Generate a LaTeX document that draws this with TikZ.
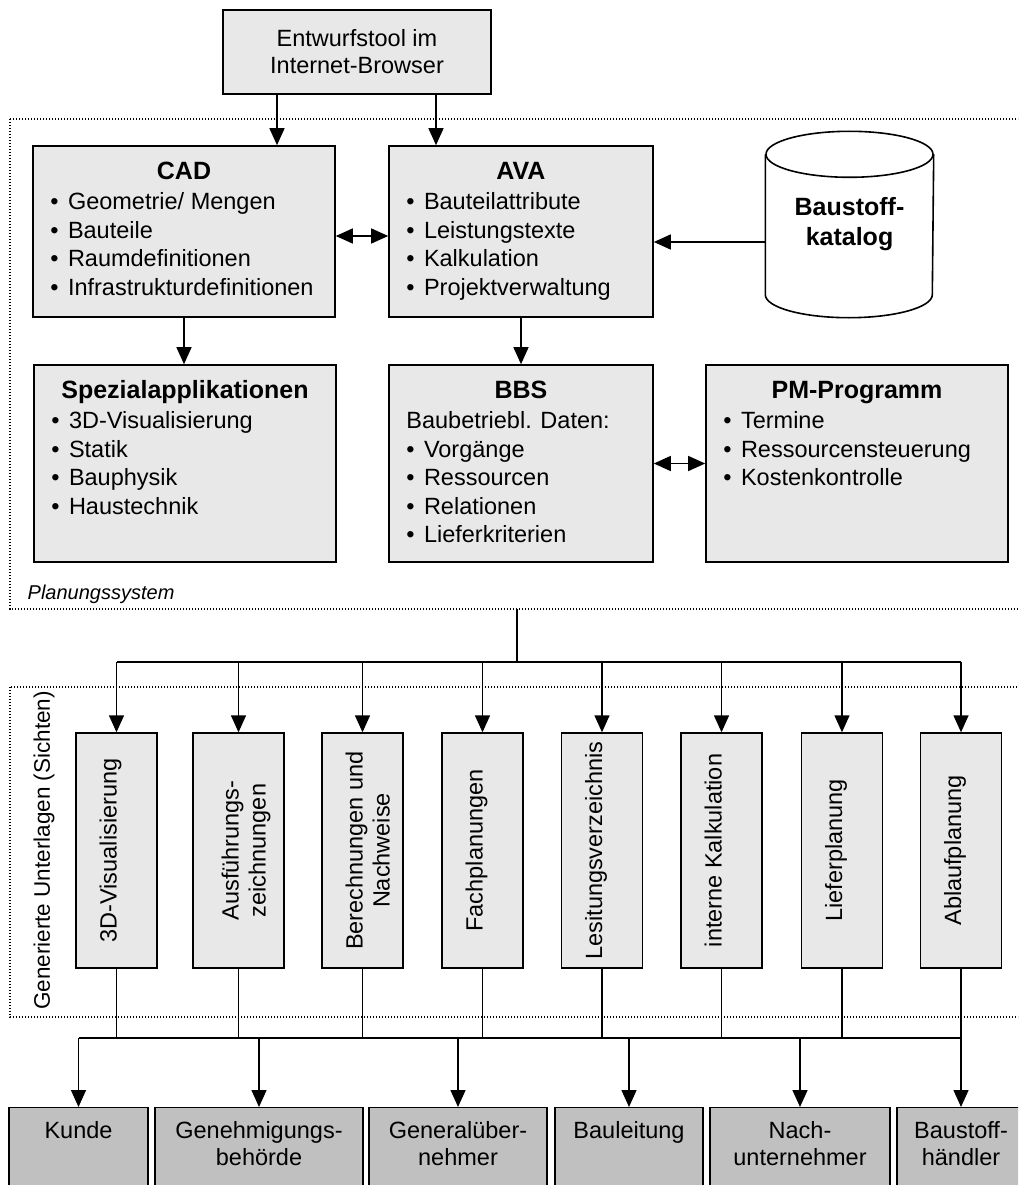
\documentclass[tikz,border=0pt]{standalone}
\usepackage{fontspec}
\setmainfont{Liberation Sans}
\usepackage{graphicx}
\usetikzlibrary{arrows.meta}
\definecolor{panelgray}{HTML}{E8E8E8}
\definecolor{recvgray}{HTML}{C0C0C0}
\newcommand{\bul}{\textbullet\hspace{0.4em}}
\newcommand{\twolines}[2]{\begin{tabular}[t]{@{}c@{}}#1\\#2\end{tabular}}
\newcommand{\vtext}[1]{\rotatebox{90}{\raisebox{0pt}[30pt][30pt]{#1}}}

\begin{document}
\begin{tikzpicture}[x=1pt,y=-1pt,>={Triangle[length=17pt,width=15pt]},line width=1.4pt,
	panel/.style={draw,fill=panelgray,line width=1.6pt,inner sep=0pt},
	head/.style={anchor=base,inner sep=0pt,font=\fontsize{25}{30}\selectfont\bfseries},
	items/.style={anchor=north west,align=left,inner sep=0pt,font=\fontsize{23.5}{28.5}\selectfont},
	sicht/.style={draw,fill=panelgray,inner sep=0pt,minimum width=81pt,minimum height=235pt,font=\fontsize{23.5}{27}\selectfont},
	recv/.style={draw,fill=recvgray,inner sep=0pt,anchor=north,text height=31pt,text depth=70pt,font=\fontsize{23.5}{27}\selectfont},
	frame/.style={dash pattern=on 1.2pt off 1.8pt,line width=1.2pt}]
	\useasboundingbox (0,0) rectangle (1018,1185);
	\clip (0,0) rectangle (1018,1185);
	\draw[frame] (10,119) rectangle (1040,609);
	\draw[frame] (10,687) rectangle (1040,1017);

	\node[panel,minimum width=268pt,minimum height=84pt,align=center,font=\fontsize{23.5}{27}\selectfont] (browser) at (357,52) {Entwurfstool im\\Internet-Browser};

	\node[panel,minimum width=302pt,minimum height=171pt] (cad) at (184,231.5) {};
	\node[panel,minimum width=264pt,minimum height=171pt] (ava) at (521,231.5) {};
	\node[panel,minimum width=302pt,minimum height=197pt] (spez) at (185,463.5) {};
	\node[panel,minimum width=264pt,minimum height=197pt] (bbs) at (521,463.5) {};
	\node[panel,minimum width=302pt,minimum height=197pt] (pm) at (857,463.5) {};

	\node[head] (cadh) at ([yshift=-34.5pt]cad.north) {CAD};
	\node[head] (avah) at ([yshift=-34.5pt]ava.north) {AVA};
	\node[head] (spezh) at ([yshift=-34.5pt]spez.north) {Spezialapplikationen};
	\node[head] (bbsh) at ([yshift=-34.5pt]bbs.north) {BBS};
	\node[head] (pmh) at ([yshift=-34.5pt]pm.north) {PM-Programm};

	\node[items] (cadl) at ([xshift=17.5pt,yshift=-47pt]cad.north west) {\bul Geometrie/ Mengen\\\bul Bauteile\\\bul Raumdefinitionen\\\bul Infrastrukturdefinitionen};
	\node[items] (aval) at ([xshift=17.5pt,yshift=-47pt]ava.north west) {\bul Bauteilattribute\\\bul Leistungstexte\\\bul Kalkulation\\\bul Projektverwaltung};
	\node[items] (spezl) at ([xshift=17.5pt,yshift=-47pt]spez.north west) {\bul 3D-Visualisierung\\\bul Statik\\\bul Bauphysik\\\bul Haustechnik};
	\node[items] (bbsl) at ([xshift=17.5pt,yshift=-47pt]bbs.north west) {Baubetriebl. Daten:\\\bul Vorgänge\\\bul Ressourcen\\\bul Relationen\\\bul Lieferkriterien};
	\node[items] (pml) at ([xshift=17.5pt,yshift=-47pt]pm.north west) {\bul Termine\\\bul Ressourcensteuerung\\\bul Kostenkontrolle};

	\node[minimum width=167pt,minimum height=185pt,align=center,font=\fontsize{25}{30}\selectfont\bfseries] (kat) at (849.5,224.5) {Baustoff-\\katalog};
	\draw[line width=1.6pt] ([yshift=-23pt]kat.north) ellipse [x radius=83.5pt,y radius=23pt];
	\draw[line width=1.6pt] ([yshift=-23pt]kat.north west) -- ([yshift=23pt]kat.south west) arc[start angle=180,end angle=360,x radius=83.5pt,y radius=23pt] -- ([yshift=-23pt]kat.north east);

	\coordinate (b1) at ([xshift=-80pt]browser.south);
	\coordinate (b2) at ([xshift=79pt]browser.south);
	\coordinate (katin) at ([yshift=-17.5pt]kat.west);
	\draw[->] (b1) -- (b1 |- cad.north);
	\draw[->] (b2) -- (b2 |- ava.north);
	\draw[<->] ([yshift=-4.5pt]cad.east) -- ([yshift=-4.5pt]ava.west);
	\draw[->] (katin) -- (katin -| ava.east);
	\draw[->] (cad.south) -- (cad.south |- spez.north);
	\draw[->] (ava.south) -- (bbs.north);
	\draw[<->] (bbs.east) -- (pm.west);

	\node[anchor=base west,inner sep=0pt,font=\fontsize{20}{24}\selectfont\itshape] (plan) at (27,599) {Planungssystem};
	\node[rotate=90,inner sep=0pt,font=\fontsize{22.5}{27}\selectfont] (gen) at (44,850.5) {Generierte Unterlagen (Sichten)};

	\node[sicht] (v1) at (116.5,850.5) {\vtext{3D-Visualisierung}};
	\node[sicht,minimum width=91pt] (v2) at (238.5,850.5) {\vtext{\twolines{Ausführungs-}{zeichnungen}}};
	\node[sicht] (v3) at (362.5,850.5) {\vtext{\twolines{Berechnungen und}{Nachweise}}};
	\node[sicht] (v4) at (482.5,850.5) {\vtext{Fachplanungen}};
	\node[sicht] (v5) at (602,850.5) {\vtext{Lesitungsverzeichnis}};
	\node[sicht] (v6) at (721.5,850.5) {\vtext{interne Kalkulation}};
	\node[sicht] (v7) at (842,850.5) {\vtext{Lieferplanung}};
	\node[sicht] (v8) at (961,850.5) {\vtext{Ablaufplanung}};

	\node[recv,minimum width=139pt] (r1) at (78.5,1107) {Kunde};
	\node[recv,minimum width=208pt] (r2) at (259,1107) {\twolines{Genehmigungs-}{behörde}};
	\node[recv,minimum width=178pt] (r3) at (458,1107) {\twolines{Generalüber-}{nehmer}};
	\node[recv,minimum width=148pt] (r4) at (629,1107) {Bauleitung};
	\node[recv,minimum width=180pt] (r5) at (800,1107) {\twolines{Nach-}{unternehmer}};
	\node[recv,minimum width=128pt] (r6) at (961,1107) {\twolines{Baustoff-}{händler}};

	\coordinate (split) at (517,609);
	\coordinate (bus1) at (517,662);
	\coordinate (bus2) at (517,1038);
	\draw (split) -- (bus1);
	\draw (v1 |- bus1) -- (v8 |- bus1);
	\path[->]
	(v1 |- bus1) edge (v1)
	(v2 |- bus1) edge (v2)
	(v3 |- bus1) edge (v3)
	(v4 |- bus1) edge (v4)
	(v5 |- bus1) edge (v5)
	(v6 |- bus1) edge (v6)
	(v7 |- bus1) edge (v7)
	(v8 |- bus1) edge (v8);
	\path
	(v1.south) edge (v1.south |- bus2)
	(v2.south) edge (v2.south |- bus2)
	(v3.south) edge (v3.south |- bus2)
	(v4.south) edge (v4.south |- bus2)
	(v5.south) edge (v5.south |- bus2)
	(v6.south) edge (v6.south |- bus2)
	(v7.south) edge (v7.south |- bus2)
	(v8.south) edge (v8.south |- bus2);
	\draw (r1 |- bus2) -- (v8 |- bus2);
	\path[->]
	(r1.north |- bus2) edge (r1.north)
	(r2.north |- bus2) edge (r2.north)
	(r3.north |- bus2) edge (r3.north)
	(r4.north |- bus2) edge (r4.north)
	(r5.north |- bus2) edge (r5.north)
	(r6.north |- bus2) edge (r6.north);
\end{tikzpicture}
\end{document}
